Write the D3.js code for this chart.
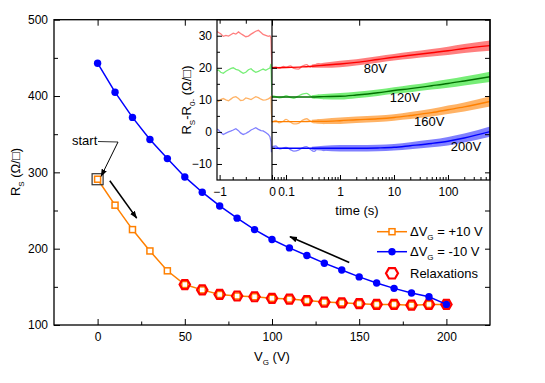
<!DOCTYPE html>
<html>
<head>
<meta charset="utf-8">
<script src="https://cdnjs.cloudflare.com/ajax/libs/d3/7.8.5/d3.min.js"></script>
<style>
  body { margin: 0; background: #fff; }
  svg { font-family: "Liberation Sans", Arial, sans-serif; }
</style>
</head>
<body>
<div id="chart"></div>
<script>
// main panel data: gate voltage sweep
const gateV = [0, 10, 20, 30, 40, 50, 60, 70, 80, 90, 100, 110, 120, 130, 140, 150, 160, 170, 180, 190, 200];
const rsUp = [291, 257, 225, 197, 171, 153, 146, 140, 138, 137, 135, 134, 132, 130, 129, 128, 127, 127, 126, 127, 127];
const rsDown = [443, 405, 372, 343, 318, 294, 274, 256, 240, 225, 212, 201, 191, 181, 172, 163, 155, 148, 142, 137, 127];
const relaxV = [50, 60, 70, 80, 90, 100, 110, 120, 130, 140, 150, 160, 170, 180, 190, 200];
const relaxRs = [153, 146, 140, 138, 137, 135, 134, 132, 130, 129, 128, 127, 127, 126, 127, 127];

const xMajor = [0, 50, 100, 150, 200], xMinor = [25, 75, 125, 175];
const yMajor = [100, 200, 300, 400, 500], yMinor = [150, 250, 350, 450];

// inset: trace before the step (t < 0)
const preT = [-1.05, -1.02, -0.98, -0.93, -0.88, -0.83, -0.78, -0.74, -0.69, -0.64, -0.6, -0.55, -0.5, -0.45, -0.4, -0.36, -0.31, -0.26, -0.21, -0.17, -0.12, -0.07, -0.04, -0.02, -0.01, 0];
const preRed = [31.3, 31.0, 30.6, 29.8, 30.1, 29.9, 30.4, 30.8, 30.5, 31.2, 30.7, 30.2, 29.7, 29.9, 30.5, 30.9, 31.4, 31.7, 31.0, 30.4, 30.1, 29.8, 30.0, 29.3, 24.0, 20.2];
const preGreen = [19.1, 19.3, 18.6, 18.3, 18.9, 19.4, 19.8, 20.0, 19.5, 19.3, 18.8, 18.3, 18.6, 19.4, 19.7, 19.1, 18.6, 18.9, 19.3, 19.6, 19.2, 19.7, 19.9, 21.2, 16.0, 11.5];
const preOrange = [9.8, 9.5, 10.1, 10.4, 10.0, 9.7, 10.3, 10.8, 11.0, 10.4, 9.8, 9.9, 10.6, 10.4, 10.1, 10.5, 11.0, 10.7, 10.2, 9.9, 10.0, 10.3, 10.6, 11.0, 6.0, 3.0];
const preBlue = [0.9, 0.6, -0.2, -0.8, -0.4, 0.0, 0.3, 0.6, 1.0, 0.4, -0.3, -0.8, -0.5, 0.0, 0.6, 0.9, 1.3, 0.8, 0.4, 0.3, -0.2, -0.8, -1.5, -3.0, -6.3, -4.8];

// inset: early noisy data after the step
const earlyT = [0.055, 0.065, 0.075, 0.09, 0.1, 0.12, 0.14, 0.17, 0.2, 0.24, 0.28, 0.33, 0.4, 0.5, 0.6];
const earlyRed = [20.0, 20.3, 19.9, 20.4, 20.2, 20.6, 19.8, 19.6, 20.5, 21.0, 20.2, 20.8, 21.3, 20.6, 21.1];
const earlyGreen = [11.2, 11.0, 10.6, 10.9, 11.3, 10.8, 10.5, 11.2, 11.8, 12.0, 11.3, 10.6, 11.5, 10.4, 11.4];
const earlyOrange = [3.0, 3.6, 2.8, 3.4, 3.9, 3.1, 2.5, 2.7, 3.6, 4.1, 3.4, 2.9, 3.8, 2.6, 3.9];
const earlyBlue = [-4.6, -4.4, -5.3, -5.0, -4.8, -5.5, -6.0, -5.7, -5.0, -4.6, -5.4, -6.1, -4.9, -5.8, -4.7];

// inset: fits and noise band
const fitT = [0.055, 0.1, 0.2, 0.3, 0.5, 1, 2, 5, 10, 20, 50, 100, 200, 600];
const fitRed = [20.0, 20.1, 20.3, 20.5, 20.8, 21.2, 21.7, 22.6, 23.3, 23.9, 24.7, 25.3, 26.0, 26.9];
const fitGreen = [10.9, 10.9, 10.9, 10.9, 11.0, 11.1, 11.5, 12.2, 12.9, 13.5, 14.4, 15.1, 15.9, 17.2];
const fitOrange = [3.2, 3.2, 3.2, 3.3, 3.3, 3.5, 3.8, 4.1, 4.5, 5.1, 6.0, 6.9, 7.8, 9.5];
const fitBlue = [-5.1, -5.1, -5.1, -5.1, -5.1, -5.1, -5.1, -5.0, -4.8, -4.3, -3.6, -2.9, -1.9, 0.1];
const bandHalf = [0, 0, 0, 0.5, 0.8, 1.0, 1.0, 1.0, 1.0, 1.1, 1.2, 1.3, 1.4, 1.6];

const voltLabels = ["80V", "120V", "160V", "200V"];
const labelT = [4.5, 16, 45, 215];
const labelV = [19.8, 10.8, 3.2, -4.6];

const W = 545, H = 383;
const svg = d3.select("#chart").append("svg")
    .attr("width", W)
    .attr("height", H);

const x = d3.scaleLinear().domain([-25, 225]).range([54, 490]);
const y = d3.scaleLinear().domain([100, 500]).range([325, 19.7]);

const FONT = "Liberation Sans, Arial, sans-serif";
function styleAxis(g) {
    g.attr("font-size", 12).attr("font-family", FONT);
    g.select(".domain").remove();
    g.selectAll("line").attr("stroke-width", 1);
}

// ---- main data ----
const orange = "#ff8000", blue = "#0000ff";

let line = d3.line().x((d, i) => x(gateV[i])).y(d => y(d));

svg.append("path")
    .attr("d", line(rsUp))
    .attr("fill", "none")
    .attr("stroke", orange)
    .attr("stroke-width", 1.5);

svg.selectAll(".sq").data(rsUp).enter()
    .append("rect")
    .attr("x", (d, i) => x(gateV[i]) - 3)
    .attr("y", d => y(d) - 3)
    .attr("width", 6)
    .attr("height", 6)
    .attr("fill", "#fff")
    .attr("stroke", orange)
    .attr("stroke-width", 1.5);

function hexPath(cx, cy, r) {
    let pts = [];
    for (let k = 0; k < 6; k++) {
        let a = Math.PI / 3 * k;
        pts.push([cx + r * Math.cos(a), cy + r * Math.sin(a)]);
    }
    return "M" + pts.join("L") + "Z";
}

svg.selectAll(".hex").data(relaxRs).enter()
    .append("path")
    .attr("d", (d, i) => hexPath(x(relaxV[i]), y(d), 5.2))
    .attr("fill", "none")
    .attr("stroke", "#ff0000")
    .attr("stroke-width", 2.2);

svg.append("path")
    .attr("d", line(rsDown))
    .attr("fill", "none")
    .attr("stroke", blue)
    .attr("stroke-width", 1.5);

svg.selectAll(".dot").data(rsDown).enter()
    .append("circle")
    .attr("cx", (d, i) => x(gateV[i]))
    .attr("cy", d => y(d))
    .attr("r", 3.7)
    .attr("fill", blue);

// start box + annotations
svg.append("rect")
    .attr("x", x(0) - 5.5)
    .attr("y", y(291) - 5.5)
    .attr("width", 11)
    .attr("height", 11)
    .attr("fill", "none")
    .attr("stroke", "#333")
    .attr("stroke-width", 1.2);

svg.append("defs").append("marker")
    .attr("id", "arr")
    .attr("viewBox", "0 0 10 10")
    .attr("refX", 9).attr("refY", 5)
    .attr("markerWidth", 8).attr("markerHeight", 8)
    .attr("markerUnits", "userSpaceOnUse")
    .attr("orient", "auto")
    .append("path")
    .attr("d", "M0,1.5L10,5L0,8.5Z")
    .attr("fill", "#000");

svg.append("text")
    .attr("x", 72)
    .attr("y", 145)
    .attr("font-size", 13)
    .text("start");

svg.append("path")
    .attr("d", `M98,141.5L118,142`)
    .attr("fill", "none")
    .attr("stroke", "#333")
    .attr("stroke-width", 1);
svg.append("line")
    .attr("x1", 118).attr("y1", 142)
    .attr("x2", x(2)).attr("y2", y(296) + 1)
    .attr("stroke", "#000")
    .attr("stroke-width", 1)
    .attr("marker-end", "url(#arr)");

svg.append("line")
    .attr("x1", x(7)).attr("y1", y(289))
    .attr("x2", x(22.4)).attr("y2", y(240))
    .attr("stroke", "#000")
    .attr("stroke-width", 1.6)
    .attr("marker-end", "url(#arr)");

svg.append("line")
    .attr("x1", x(144.3)).attr("y1", y(182))
    .attr("x2", x(110.3)).attr("y2", y(215.7))
    .attr("stroke", "#000")
    .attr("stroke-width", 1.6)
    .attr("marker-end", "url(#arr)");

// legend
const lg = svg.append("g").attr("font-size", 13);
const legRows = [231.7, 251.7, 273.3];
function legText(yy, sign) {
    let t = lg.append("text").attr("x", 410).attr("y", yy + 4.5);
    t.append("tspan").text("\u0394V");
    t.append("tspan").attr("font-size", 8).attr("dy", 4).text("G");
    t.append("tspan").attr("dy", -4).text(" = " + sign + "10 V");
}
lg.append("line").attr("x1", 377).attr("x2", 407).attr("y1", legRows[0]).attr("y2", legRows[0])
    .attr("stroke", orange).attr("stroke-width", 1.5);
lg.append("rect").attr("x", 389).attr("y", legRows[0] - 3).attr("width", 6).attr("height", 6)
    .attr("fill", "#fff").attr("stroke", orange).attr("stroke-width", 1.5);
legText(legRows[0], "+");
lg.append("line").attr("x1", 377).attr("x2", 407).attr("y1", legRows[1]).attr("y2", legRows[1])
    .attr("stroke", blue).attr("stroke-width", 1.5);
lg.append("circle").attr("cx", 392).attr("cy", legRows[1]).attr("r", 3.7).attr("fill", blue);
legText(legRows[1], "-");
lg.append("path").attr("d", hexPath(392, legRows[2], 6))
    .attr("fill", "none").attr("stroke", "#ff0000").attr("stroke-width", 2.2);
lg.append("text").attr("x", 410).attr("y", legRows[2] + 4.5).text("Relaxations");

// ---- inset ----
const xL = d3.scaleLinear().domain([-1.05, 0]).range([217, 272]);
const xR = d3.scaleLog().domain([0.055, 600]).range([272, 490]);
const yI = d3.scaleLinear().domain([-15, 35]).range([180, 19.7]);

const inset = svg.append("g");
inset.append("rect")
    .attr("x", 217).attr("y", 19.7)
    .attr("width", 273).attr("height", 160.3)
    .attr("fill", "#fff");

const pale = { red: "#ff7f7f", green: "#77ee77", orange: "#ffb366", blue: "#8080ff" };
const dark = { red: "#ff0000", green: "#007000", orange: "#ff8000", blue: "#0000ff" };
const series = [
    { key: "red", pre: preRed, early: earlyRed, fit: fitRed },
    { key: "green", pre: preGreen, early: earlyGreen, fit: fitGreen },
    { key: "orange", pre: preOrange, early: earlyOrange, fit: fitOrange },
    { key: "blue", pre: preBlue, early: earlyBlue, fit: fitBlue }
];

const clipL = svg.append("clipPath").attr("id", "clipL").append("rect")
    .attr("x", 217).attr("y", 19.7).attr("width", 55).attr("height", 160.3);
const clipR = svg.append("clipPath").attr("id", "clipR").append("rect")
    .attr("x", 272).attr("y", 19.7).attr("width", 218).attr("height", 160.3);

const leftG = inset.append("g").attr("clip-path", "url(#clipL)");
const rightG = inset.append("g").attr("clip-path", "url(#clipR)");

series.forEach(function (s) {
    leftG.append("path")
        .attr("d", d3.line().x((d, i) => xL(preT[i])).y(d => yI(d))(s.pre))
        .attr("fill", "none")
        .attr("stroke", pale[s.key])
        .attr("stroke-width", 1.3);

    let band = d3.area()
        .x((d, i) => xR(fitT[i + 3]))
        .y0((d, i) => yI(d - bandHalf[i + 3]))
        .y1((d, i) => yI(d + bandHalf[i + 3]))
        .curve(d3.curveMonotoneX);
    rightG.append("path")
        .attr("d", band(s.fit.slice(3)))
        .attr("fill", pale[s.key]);

    rightG.append("path")
        .attr("d", d3.line().x((d, i) => xR(earlyT[i])).y(d => yI(d)).curve(d3.curveMonotoneX)(s.early))
        .attr("fill", "none")
        .attr("stroke", pale[s.key])
        .attr("stroke-width", 1.3);

    rightG.append("path")
        .attr("d", d3.line().x((d, i) => xR(fitT[i])).y(d => yI(d)).curve(d3.curveMonotoneX)(s.fit))
        .attr("fill", "none")
        .attr("stroke", dark[s.key])
        .attr("stroke-width", 1.4);
});

inset.selectAll(".vl").data(voltLabels).enter()
    .append("text")
    .attr("x", (d, i) => xR(labelT[i]))
    .attr("y", (d, i) => yI(labelV[i]) + 4.5)
    .attr("text-anchor", "middle")
    .attr("font-size", 13)
    .text(d => d);

// inset axes
const iyMajor = [-10, 0, 10, 20, 30], iyMinor = [-5, 5, 15, 25];
inset.append("g").attr("transform", "translate(217,0)")
    .call(d3.axisLeft(yI).tickValues(iyMajor).tickSizeInner(-5).tickSizeOuter(0).tickPadding(5))
    .call(styleAxis);
inset.append("g").attr("transform", "translate(217,0)")
    .call(d3.axisLeft(yI).tickValues(iyMinor).tickSize(-3).tickFormat(""))
    .call(styleAxis);
inset.append("g").attr("transform", "translate(272,0)")
    .call(d3.axisLeft(yI).tickValues(iyMajor).tickSizeInner(-5).tickSizeOuter(0).tickFormat(""))
    .call(styleAxis);
inset.append("g").attr("transform", "translate(272,0)")
    .call(d3.axisLeft(yI).tickValues(iyMinor).tickSize(-3).tickFormat(""))
    .call(styleAxis);

inset.append("g").attr("transform", "translate(0,180)")
    .call(d3.axisBottom(xL).tickValues([-1, 0]).tickSizeInner(-5).tickSizeOuter(0).tickPadding(7).tickFormat(d3.format("d")))
    .call(styleAxis);
inset.append("g").attr("transform", "translate(0,180)")
    .call(d3.axisBottom(xL).tickValues([-0.75, -0.5, -0.25]).tickSize(-3).tickFormat(""))
    .call(styleAxis);
inset.append("g").attr("transform", "translate(0,19.7)")
    .call(d3.axisTop(xL).tickValues([-1, -0.5]).tickSize(-4).tickFormat(""))
    .call(styleAxis);

const logMajor = [0.1, 1, 10, 100];
const logMinor = [0.06, 0.07, 0.08, 0.09, 0.2, 0.3, 0.4, 0.5, 0.6, 0.7, 0.8, 0.9, 2, 3, 4, 5, 6, 7, 8, 9,
    20, 30, 40, 50, 60, 70, 80, 90, 200, 300, 400, 500];
inset.append("g").attr("transform", "translate(0,180)")
    .call(d3.axisBottom(xR).tickValues(logMajor).tickSizeInner(-5).tickSizeOuter(0).tickPadding(7).tickFormat(d => d))
    .call(styleAxis);
inset.append("g").attr("transform", "translate(0,180)")
    .call(d3.axisBottom(xR).tickValues(logMinor).tickSize(-3).tickFormat(""))
    .call(styleAxis);

inset.append("rect")
    .attr("x", 217).attr("y", 19.7)
    .attr("width", 273).attr("height", 160.3)
    .attr("fill", "none")
    .attr("stroke", "#000")
    .attr("stroke-width", 1.2);
inset.append("line")
    .attr("x1", 272).attr("x2", 272).attr("y1", 19.7).attr("y2", 180)
    .attr("stroke", "#000").attr("stroke-width", 1.2);

inset.append("text")
    .attr("x", 357).attr("y", 214.5)
    .attr("text-anchor", "middle")
    .attr("font-size", 13)
    .text("time (s)");

let iyl = inset.append("text")
    .attr("transform", "translate(191,100)rotate(-90)")
    .attr("text-anchor", "middle")
    .attr("font-size", 13);
iyl.append("tspan").text("R");
iyl.append("tspan").attr("font-size", 8).attr("dy", 4).text("S");
iyl.append("tspan").attr("dy", -4).text("-R");
iyl.append("tspan").attr("font-size", 8).attr("dy", 4).text("0-");
iyl.append("tspan").attr("dy", -4).text(" (\u03A9/\u25A1)");

// ---- main axes (drawn last so ticks sit on top of the inset) ----
svg.append("g").attr("transform", "translate(0,325)")
    .call(d3.axisBottom(x).tickValues(xMajor).tickSizeInner(-6).tickSizeOuter(0).tickPadding(7))
    .call(styleAxis);
svg.append("g").attr("transform", "translate(0,325)")
    .call(d3.axisBottom(x).tickValues(xMinor).tickSize(-3.5).tickFormat(""))
    .call(styleAxis);
svg.append("g").attr("transform", "translate(0,19.7)")
    .call(d3.axisTop(x).tickValues(xMajor).tickSize(-6).tickFormat(""))
    .call(styleAxis);
svg.append("g").attr("transform", "translate(54,0)")
    .call(d3.axisLeft(y).tickValues(yMajor).tickSizeInner(-6).tickSizeOuter(0).tickPadding(6))
    .call(styleAxis);
svg.append("g").attr("transform", "translate(54,0)")
    .call(d3.axisLeft(y).tickValues(yMinor).tickSize(-4).tickFormat(""))
    .call(styleAxis);
svg.append("g").attr("transform", "translate(490,0)")
    .call(d3.axisRight(y).tickValues(yMajor.concat(yMinor)).tickSize(-5).tickFormat(""))
    .call(styleAxis);

svg.append("rect")
    .attr("x", 54).attr("y", 19.7)
    .attr("width", 436).attr("height", 305.3)
    .attr("fill", "none")
    .attr("stroke", "#000")
    .attr("stroke-width", 1.3);

let xl = svg.append("text")
    .attr("x", 272).attr("y", 361)
    .attr("text-anchor", "middle")
    .attr("font-size", 13);
xl.append("tspan").text("V");
xl.append("tspan").attr("font-size", 8).attr("dy", 4).text("G");
xl.append("tspan").attr("dy", -4).text(" (V)");

let yl = svg.append("text")
    .attr("transform", "translate(20,172)rotate(-90)")
    .attr("text-anchor", "middle")
    .attr("font-size", 13);
yl.append("tspan").text("R");
yl.append("tspan").attr("font-size", 8).attr("dy", 4).text("S");
yl.append("tspan").attr("dy", -4).text(" (\u03A9/\u25A1)");
</script>
</body>
</html>
